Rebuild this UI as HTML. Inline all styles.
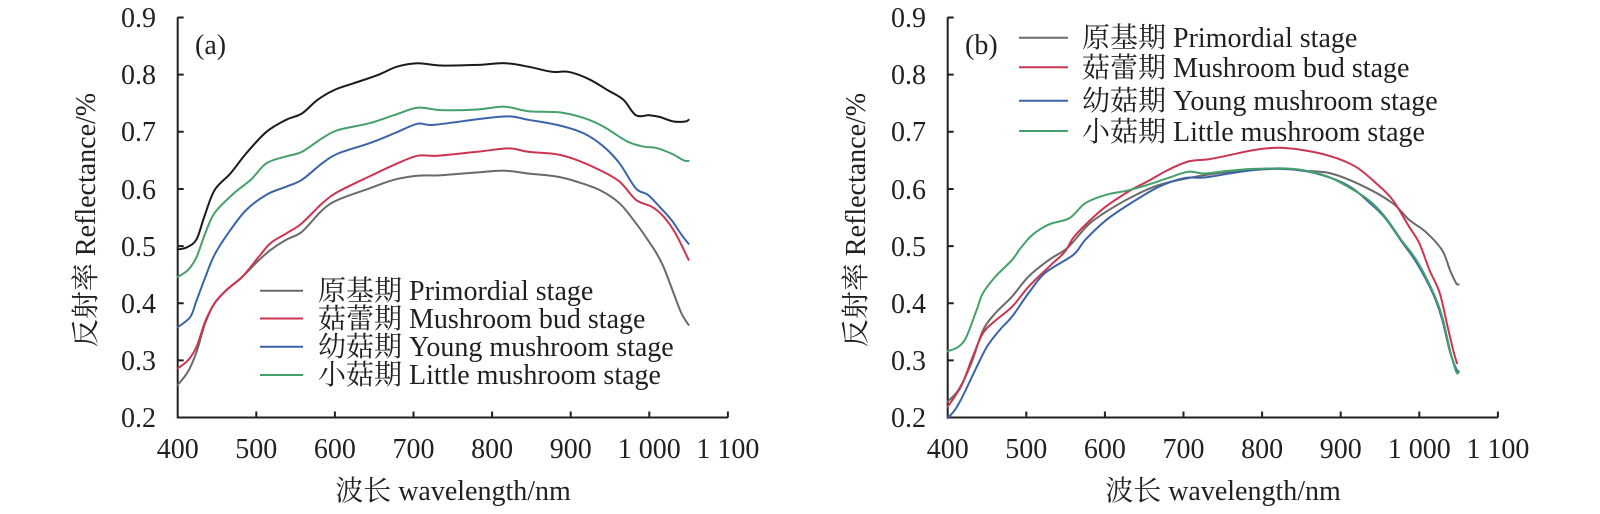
<!DOCTYPE html>
<html><head><meta charset="utf-8">
<style>
html,body{margin:0;padding:0;background:#fff;}
svg{display:block;}
text{font-family:"Liberation Serif","Noto Serif CJK SC","Noto Sans CJK SC",serif;fill:#231f20;font-size:28px;}
</style></head>
<body>
<svg id="c" width="1600" height="514" viewBox="0 0 1600 514" xmlns="http://www.w3.org/2000/svg">
<g id="axes" stroke="#231f20" stroke-width="2" fill="none"></g>
<g id="curves" fill="none" stroke-width="2" stroke-linejoin="round" stroke-linecap="round"></g>
<g id="labels">
<text x="156" y="27" text-anchor="end">0.9</text>
<text x="156" y="84" text-anchor="end">0.8</text>
<text x="156" y="141" text-anchor="end">0.7</text>
<text x="156" y="199" text-anchor="end">0.6</text>
<text x="156" y="256" text-anchor="end">0.5</text>
<text x="156" y="313" text-anchor="end">0.4</text>
<text x="156" y="370" text-anchor="end">0.3</text>
<text x="156" y="427" text-anchor="end">0.2</text>
<text x="177.7" y="458" text-anchor="middle">400</text>
<text x="256.3" y="458" text-anchor="middle">500</text>
<text x="334.9" y="458" text-anchor="middle">600</text>
<text x="413.5" y="458" text-anchor="middle">700</text>
<text x="492.1" y="458" text-anchor="middle">800</text>
<text x="570.7" y="458" text-anchor="middle">900</text>
<text x="649.3" y="458" text-anchor="middle">1 000</text>
<text x="727.9" y="458" text-anchor="middle">1 100</text>
<text x="453" y="500" text-anchor="middle">波长 wavelength/nm</text>
<text transform="translate(95,220) rotate(-90)" text-anchor="middle">反射率 Reflectance/%</text>
<text x="195" y="54">(a)</text>
<text x="318" y="300">原基期 Primordial stage</text>
<text x="318" y="328">菇蕾期 Mushroom bud stage</text>
<text x="318" y="356">幼菇期 Young mushroom stage</text>
<text x="318" y="384">小菇期 Little mushroom stage</text>

<text x="926" y="27" text-anchor="end">0.9</text>
<text x="926" y="84" text-anchor="end">0.8</text>
<text x="926" y="141" text-anchor="end">0.7</text>
<text x="926" y="199" text-anchor="end">0.6</text>
<text x="926" y="256" text-anchor="end">0.5</text>
<text x="926" y="313" text-anchor="end">0.4</text>
<text x="926" y="370" text-anchor="end">0.3</text>
<text x="926" y="427" text-anchor="end">0.2</text>
<text x="947.7" y="458" text-anchor="middle">400</text>
<text x="1026.3" y="458" text-anchor="middle">500</text>
<text x="1104.9" y="458" text-anchor="middle">600</text>
<text x="1183.5" y="458" text-anchor="middle">700</text>
<text x="1262.1" y="458" text-anchor="middle">800</text>
<text x="1340.7" y="458" text-anchor="middle">900</text>
<text x="1419.3" y="458" text-anchor="middle">1 000</text>
<text x="1497.9" y="458" text-anchor="middle">1 100</text>
<text x="1223" y="500" text-anchor="middle">波长 wavelength/nm</text>
<text transform="translate(865,220) rotate(-90)" text-anchor="middle">反射率 Reflectance/%</text>
<text x="965" y="54">(b)</text>
<text x="1082" y="47">原基期 Primordial stage</text>
<text x="1082" y="77">菇蕾期 Mushroom bud stage</text>
<text x="1082" y="110">幼菇期 Young mushroom stage</text>
<text x="1082" y="141">小菇期 Little mushroom stage</text>
</g>
<g id="legendlines" stroke-width="2">
<line x1="260" y1="290.7" x2="303" y2="290.7" stroke="#6a6a6a"/>
<line x1="260" y1="318.5" x2="303" y2="318.5" stroke="#cc3550"/>
<line x1="260" y1="346.7" x2="303" y2="346.7" stroke="#3b64a8"/>
<line x1="260" y1="375" x2="303" y2="375" stroke="#45a06a"/>
<line x1="1019" y1="37.7" x2="1068" y2="37.7" stroke="#6a6a6a"/>
<line x1="1019" y1="67.3" x2="1068" y2="67.3" stroke="#cc3550"/>
<line x1="1019" y1="100.7" x2="1068" y2="100.7" stroke="#3b64a8"/>
<line x1="1019" y1="131" x2="1068" y2="131" stroke="#45a06a"/>
</g>
</svg>
<script>
(function(){
var NS="http://www.w3.org/2000/svg";
var axes=document.getElementById("axes"), curves=document.getElementById("curves");
function el(tag,attrs,parent){var e=document.createElementNS(NS,tag);for(var k in attrs)e.setAttribute(k,attrs[k]);parent.appendChild(e);return e;}
var K=0.786, Y0=417.5, YS=571.4;
function panel(x0){
  var d="M"+x0+",17.3 L"+x0+","+Y0+" L"+(x0+700*K)+","+Y0;
  for(var i=1;i<=7;i++){var x=x0+i*100*K;d+=" M"+x+","+Y0+" L"+x+","+(Y0-6);}
  for(var j=1;j<=7;j++){var y=Y0-j*0.1*YS;d+=" M"+x0+","+y+" L"+(x0+6)+","+y;}
  el("path",{d:d},axes);
}
panel(177.7);panel(947.7);
function path(x0,data,color){
  var p=data.map(function(a){return [x0+(a[0]-400)*K, Y0-(a[1]-0.2)*YS];});
  var d="M"+p[0][0].toFixed(1)+","+p[0][1].toFixed(1);
  for(var i=0;i<p.length-1;i++){
    var p0=p[i-1]||p[i],p1=p[i],p2=p[i+1],p3=p[i+2]||p[i+1];
    var c1x=p1[0]+(p2[0]-p0[0])/6,c1y=p1[1]+(p2[1]-p0[1])/6;
    var c2x=p2[0]-(p3[0]-p1[0])/6,c2y=p2[1]-(p3[1]-p1[1])/6;
    d+=" C"+c1x.toFixed(1)+","+c1y.toFixed(1)+" "+c2x.toFixed(1)+","+c2y.toFixed(1)+" "+p2[0].toFixed(1)+","+p2[1].toFixed(1);
  }
  el("path",{d:d,stroke:color},curves);
}
var GRAY="#6a6a6a",RED="#cc3550",BLUE="#3b64a8",GREEN="#45a06a",BLACK="#1a1a1a";
path(177.7,[[400,.257],[413,.280],[424,.315],[435,.365],[447,.400],[462,.423],[482,.446],[503,.475],[518,.493],[538,.511],[558,.525],[584,.563],[604,.581],[644,.601],[675,.616],[705,.623],[735,.624],[781,.629],[816,.632],[846,.627],[881,.622],[907,.613],[937,.598],[962,.575],[983,.540],[998,.511],[1008,.490],[1018,.464],[1031,.417],[1041,.382],[1050,.362]],GRAY);
path(177.7,[[400,.286],[413,.300],[424,.324],[435,.368],[447,.400],[462,.423],[482,.446],[503,.481],[518,.505],[538,.522],[558,.540],[584,.575],[604,.595],[644,.622],[675,.642],[705,.658],[730,.658],[781,.665],[821,.671],[846,.665],[881,.661],[907,.651],[937,.633],[962,.613],[983,.581],[1003,.569],[1018,.552],[1033,.523],[1050,.476]],RED);
path(177.7,[[400,.358],[416,.376],[424,.405],[435,.445],[447,.485],[467,.528],[487,.563],[513,.590],[538,.604],[558,.616],[584,.645],[604,.662],[644,.680],[675,.697],[705,.714],[725,.712],[781,.722],[821,.727],[846,.721],[886,.711],[917,.697],[942,.674],[962,.645],[983,.601],[998,.590],[1013,.569],[1028,.546],[1041,.520],[1050,.504]],BLUE);
path(177.7,[[400,.446],[413,.458],[424,.481],[435,.522],[447,.558],[472,.593],[493,.616],[513,.645],[538,.657],[558,.665],[584,.689],[604,.703],[644,.715],[675,.729],[705,.742],[735,.738],[781,.739],[816,.744],[846,.736],[886,.734],[917,.724],[942,.709],[972,.683],[993,.674],[1008,.672],[1028,.662],[1044,.650],[1050,.649]],GREEN);
path(177.7,[[400,.494],[412,.498],[424,.512],[434,.552],[447,.598],[467,.627],[487,.662],[513,.700],[538,.721],[558,.732],[578,.756],[599,.773],[624,.785],[654,.799],[679,.814],[705,.820],[735,.816],[781,.817],[816,.820],[846,.814],[876,.805],[897,.805],[922,.793],[947,.773],[967,.756],[983,.729],[1000,.729],[1013,.726],[1031,.718],[1046,.718],[1050,.721]],BLACK);
path(947.7,[[400,.228],[414,.249],[430,.295],[445,.353],[461,.383],[482,.412],[503,.447],[529,.476],[549,.493],[560,.508],[581,.540],[612,.569],[643,.592],[669,.607],[706,.619],[758,.630],[820,.636],[852,.632],[888,.627],[930,.604],[966,.575],[987,.546],[1008,.525],[1029,.493],[1039,.458],[1047,.435],[1050,.433]],GRAY);
path(947.7,[[400,.219],[409,.237],[419,.260],[432,.307],[445,.348],[461,.370],[482,.394],[503,.429],[529,.464],[549,.490],[560,.515],[581,.545],[602,.570],[633,.598],[654,.613],[680,.633],[706,.648],[732,.652],[758,.659],[789,.668],[820,.672],[852,.668],[888,.657],[919,.639],[945,.610],[966,.581],[987,.534],[1000,.505],[1013,.458],[1026,.418],[1036,.359],[1044,.313],[1048,.295]],RED);
path(947.7,[[400,.199],[409,.213],[419,.237],[435,.283],[450,.324],[466,.353],[482,.377],[503,.418],[524,.453],[560,.485],[575,.511],[602,.546],[633,.575],[669,.604],[701,.619],[727,.620],[758,.627],[789,.633],[820,.635],[852,.632],[888,.619],[914,.602],[935,.578],[956,.550],[977,.509],[997,.470],[1018,.415],[1029,.372],[1039,.315],[1047,.285],[1050,.281]],BLUE);
path(947.7,[[400,.316],[414,.324],[424,.342],[437,.389],[445,.418],[461,.447],[482,.476],[492,.495],[508,.520],[529,.538],[555,.549],[575,.575],[602,.590],[628,.597],[654,.607],[680,.619],[706,.630],[727,.627],[758,.632],[789,.635],[826,.636],[852,.633],[883,.622],[909,.604],[935,.581],[956,.552],[977,.511],[997,.474],[1018,.418],[1029,.377],[1039,.318],[1047,.280],[1050,.279]],GREEN);
})();
</script>
</body></html>
